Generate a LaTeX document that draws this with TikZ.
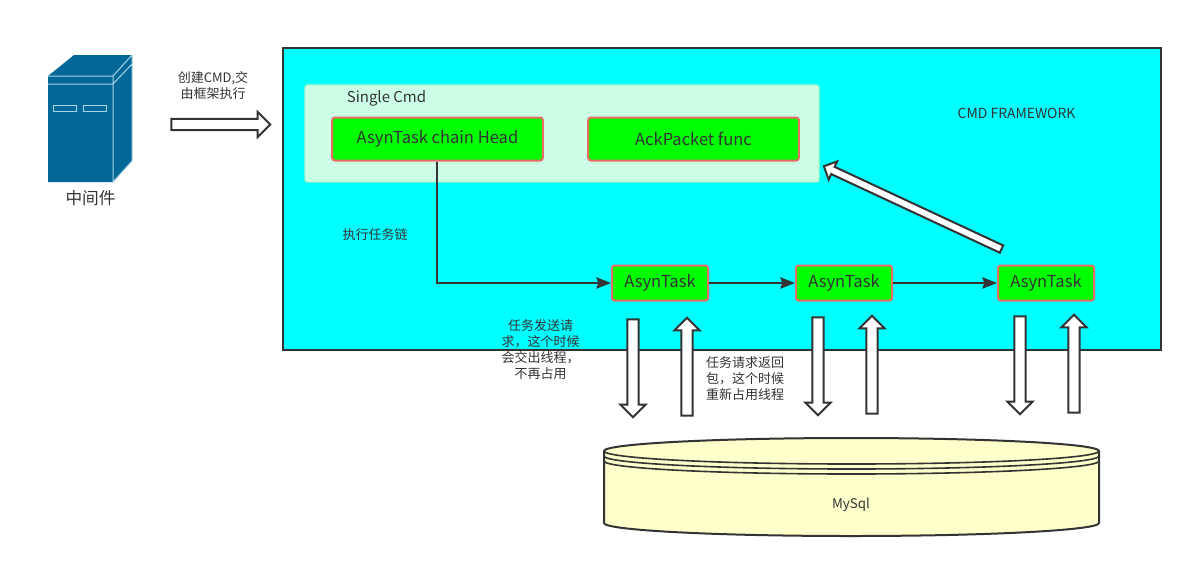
\documentclass[tikz,border=0pt]{standalone}
\usepackage{fontspec}
\setmainfont{Noto Sans CJK SC}
\usepackage{tikz}
\usetikzlibrary{arrows.meta}
\usetikzlibrary{shapes.arrows}
\definecolor{inkcol}{HTML}{333333}
\definecolor{frameblue}{HTML}{00FFFF}
\definecolor{cmdbox}{HTML}{CCFFE6}
\definecolor{cmdline}{HTML}{AEF5C8}
\definecolor{taskgreen}{HTML}{00FF00}
\definecolor{taskline}{HTML}{EA6B66}
\definecolor{dbyellow}{HTML}{FFFFCC}
\definecolor{serverblue}{HTML}{036897}
\definecolor{serverline}{HTML}{A9D5E8}
\tikzset{
  task/.style={draw=taskline, fill=taskgreen, line width=1.5pt, rounded corners=2pt, text=inkcol, font=\fontsize{12.4}{14}\selectfont, inner sep=0pt},
  blockarrow/.style={single arrow, draw=inkcol, fill=white, line width=1.5pt, inner sep=3.4pt, minimum width=17.5pt, single arrow head extend=5.25pt},
  flow/.style={draw=inkcol, line width=1.5pt, -{Stealth[length=11pt,width=8.5pt,inset=1.5pt]}},
  note/.style={text=inkcol, align=center, inner sep=0pt, font=\fontsize{9.75}{12}\selectfont},
}
\begin{document}
\begin{tikzpicture}[x=0.75pt, y=-0.75pt]
    \useasboundingbox (0,0) rectangle (1192,569);
    % framework
    \node[draw=inkcol, fill=frameblue, line width=1.5pt, minimum width=658.5pt, minimum height=226.5pt, inner sep=0pt] (frame) at (722,199) {};
    \node[note, font=\fontsize{10.45}{12}\selectfont] (framelabel) at (1016.5,113) {CMD FRAMEWORK};
    % single cmd
    \node[draw=cmdline, fill=cmdbox, line width=1pt, rounded corners=2pt, minimum width=385.5pt, minimum height=72.75pt, inner sep=0pt] (cmd) at (562,133.5) {};
    \node[text=inkcol, inner sep=0pt, font=\fontsize{11.25}{13}\selectfont] (cmdlabel) at (386.5,98) {Single Cmd};
    \node[task, minimum width=158pt, minimum height=32.25pt] (head) at (437.5,139) {AsynTask chain Head};
    \node[task, minimum width=158pt, minimum height=32.25pt] (ack) at (693.5,139) {AckPacket func};
    % tasks
    \node[task, minimum width=72pt, minimum height=26.25pt] (task1) at (660,283) {AsynTask};
    \node[task, minimum width=72pt, minimum height=26.25pt] (task2) at (844,283) {AsynTask};
    \node[task, minimum width=72pt, minimum height=26.25pt] (task3) at (1046,283) {AsynTask};
    \coordinate (elbow) at (437,283);
    \draw[flow] (head.south -| elbow) -- (elbow) -- (task1.west);
    \draw[flow] (task1) -- (task2);
    \draw[flow] (task2) -- (task3);
    \node[note] (chainlabel) at (375,235) {执行任务链};
    % server
    \fill[serverblue] (48,76) -- (74,55) -- (132,55) -- (132,161) -- (113,182) -- (48,182) -- cycle;
    \draw[serverline, line width=0.75pt] (48,76) -- (113,76) -- (113,182) (48,84) -- (113,84) (113,76) -- (132,55) (113,84) -- (132,64) (132,55) -- (132,161) -- (113,182);
    \draw[serverline, line width=0.75pt] (53,105.5) rectangle (76,111) (83,105.5) rectangle (106,111);
    \node[text=inkcol, inner sep=0pt, font=\fontsize{12.5}{14}\selectfont] (server) at (90.5,198) {中间件};
    \node[blockarrow, minimum height=74.25pt] (toframe) at (218,124.5) {};
    \node[note] (tolabel) at (213,85.5) {创建CMD,交\\由框架执行};
    % requests
    \node[blockarrow, rotate=270, minimum height=73.5pt] (down1) at (633,365.5) {};
    \node[blockarrow, rotate=90, minimum height=73.5pt] (up1) at (687,369.5) {};
    \node[blockarrow, rotate=270, minimum height=73.5pt] (down2) at (818,363.5) {};
    \node[blockarrow, rotate=90, minimum height=73.5pt] (up2) at (872,367.5) {};
    \node[blockarrow, rotate=270, minimum height=73.5pt] (down3) at (1020,362.5) {};
    \node[blockarrow, rotate=90, minimum height=73.5pt] (up3) at (1074,366.5) {};
    \node[blockarrow, rotate=155, inner sep=2.25pt, minimum width=13.5pt, single arrow head extend=4.5pt, minimum height=147pt] (back) at (914.5,208.5) {};
    \node[note] (sendlabel) at (540.5,350) {任务发送请\\求，这个时候\\会交出线程，\\不再占用};
    \node[note] (backlabel) at (745,379) {任务请求返回\\包，这个时候\\重新占用线程};
    % database
    \draw[inkcol, fill=dbyellow, line width=1.5pt] (604,451) arc[start angle=180, end angle=360, x radius=247.5, y radius=13] -- (1099,523) arc[start angle=0, end angle=180, x radius=247.5, y radius=13] -- cycle;
    \draw[inkcol, line width=1.2pt] (604,451) arc[start angle=180, end angle=0, x radius=247.5, y radius=13];
    \draw[inkcol, line width=1.2pt] (604,456) arc[start angle=180, end angle=0, x radius=247.5, y radius=13];
    \draw[inkcol, line width=1.2pt] (604,461) arc[start angle=180, end angle=0, x radius=247.5, y radius=13];
    \node[note, font=\fontsize{10}{12}\selectfont] (db) at (851,505) {MySql};
\end{tikzpicture}
\end{document}
